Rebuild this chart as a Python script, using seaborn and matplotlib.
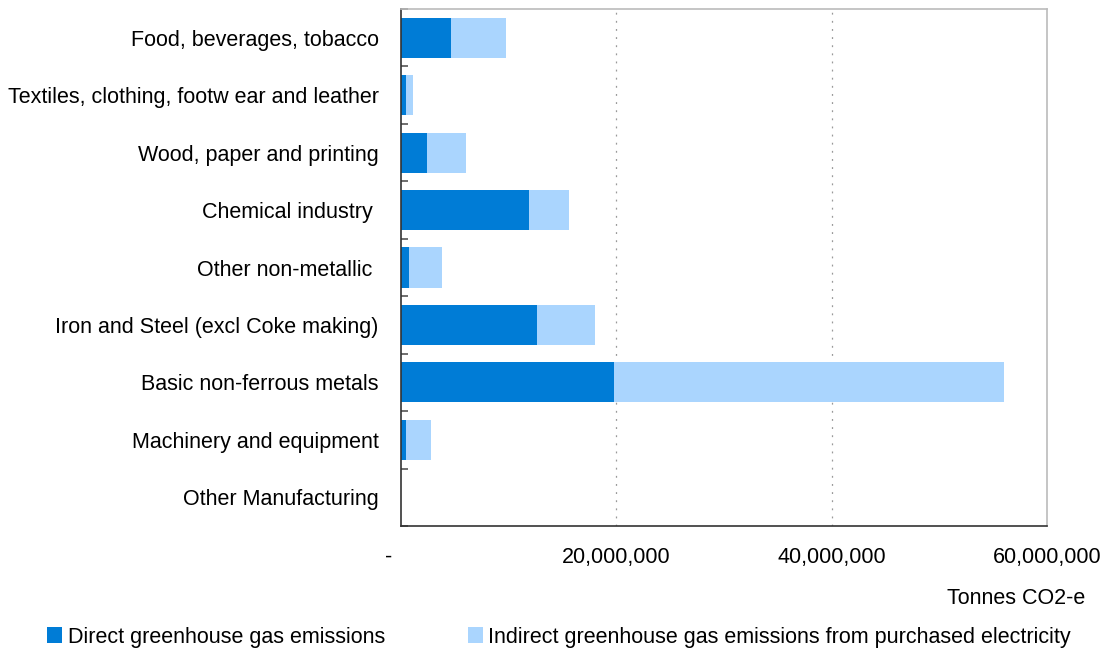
import matplotlib
matplotlib.use("Agg")
import matplotlib.pyplot as plt
from matplotlib.patches import Patch
from matplotlib.ticker import FixedLocator
import seaborn as sns
import pandas as pd

categories = [
    "Food, beverages, tobacco",
    "Textiles, clothing, footw ear and leather",
    "Wood, paper and printing",
    "Chemical industry ",
    "Other non-metallic ",
    "Iron and Steel (excl Coke making)",
    "Basic non-ferrous metals",
    "Machinery and equipment",
    "Other Manufacturing",
]
direct = [4.63e6, 0.46e6, 2.41e6, 11.85e6, 0.74e6, 12.6e6, 19.8e6, 0.46e6, 0.0]
indirect = [5.09e6, 0.65e6, 3.61e6, 3.80e6, 3.06e6, 5.46e6, 36.2e6, 2.32e6, 0.0]
xticks = [0, 20e6, 40e6, 60e6]
xticklabels = ["-    ", "20,000,000", "40,000,000", "60,000,000"]

df = pd.DataFrame({"category": categories, "direct": direct, "indirect": indirect})
df["total"] = df["direct"] + df["indirect"]

sns.set_style("white")
plt.rcParams["font.family"] = ["Liberation Sans", "DejaVu Sans"]
plt.rcParams["text.color"] = "black"
plt.rcParams["xtick.color"] = "black"
plt.rcParams["ytick.color"] = "black"
plt.rcParams["xtick.labelcolor"] = "black"
plt.rcParams["ytick.labelcolor"] = "black"
FS = 15.5

fig = plt.figure(figsize=(11.07, 6.53), dpi=100)
ax = fig.add_axes([401 / 1107, 1 - 526 / 653, (1047 - 401) / 1107, (526 - 9) / 653])

c_direct = "#007CD6"
c_indirect = "#AAD5FE"
sns.barplot(data=df, y="category", x="total", color=c_indirect, orient="h",
            width=0.7, saturation=1, linewidth=0, ax=ax)
sns.barplot(data=df, y="category", x="direct", color=c_direct, orient="h",
            width=0.7, saturation=1, linewidth=0, ax=ax)

ax.set_xlim(0, 60e6)
ax.set_ylim(len(categories) - 0.5, -0.5)
ax.set_xticks(xticks)
ax.set_xticklabels(xticklabels, fontsize=FS, color="black")
ax.set_yticks(range(len(categories)))
ax.set_yticklabels(categories, fontsize=FS, color="black")
ax.set_xlabel("")
ax.set_ylabel("")
ax.tick_params(axis="x", length=0, pad=15)
ax.tick_params(axis="y", which="major", length=0, pad=16)
ax.yaxis.set_minor_locator(FixedLocator([i + 0.5 for i in range(-1, len(categories))]))
ax.tick_params(axis="y", which="minor", left=True, direction="in", length=5,
               width=1.2, color="#555555")

for v in xticks[1:3]:
    ax.axvline(v, color="#999999", linestyle=(0, (1.5, 5)), linewidth=0.9, zorder=0)

for side in ["top", "right"]:
    ax.spines[side].set_color("#BBBBBB")
    ax.spines[side].set_linewidth(1.2)
for side in ["left", "bottom"]:
    ax.spines[side].set_color("#333333")
    ax.spines[side].set_linewidth(1.2)

fig.text(1085 / 1107, 1 - 598 / 653, "Tonnes CO2-e", ha="right", va="center",
         fontsize=FS, color="black")

handles = [Patch(facecolor=c_direct, edgecolor="none"),
           Patch(facecolor=c_indirect, edgecolor="none")]
leg = fig.legend(handles, ["Direct greenhouse gas emissions",
                           "Indirect greenhouse gas emissions from purchased electricity"],
                 loc="center left", bbox_to_anchor=(28 / 1107, 1 - 637 / 653), ncol=2,
                 frameon=False, fontsize=FS, handlelength=0.7, handleheight=0.7,
                 handletextpad=0.25, columnspacing=3.85)
for t in leg.get_texts():
    t.set_color("black")

fig.savefig("out.png", dpi=100)
